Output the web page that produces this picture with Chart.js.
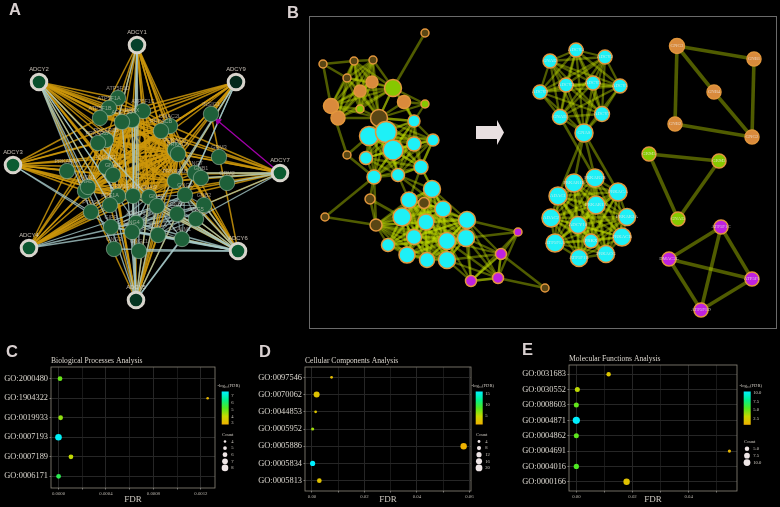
<!DOCTYPE html>
<html>
<head>
<meta charset="utf-8">
<title>Network and GO analysis</title>
<script src="https://cdn.jsdelivr.net/npm/chart.js@4"></script>
<style>
  html, body { margin: 0; background: #000; }
  #page { position: relative; width: 780px; height: 507px; overflow: hidden; background: #000; }
  canvas { position: absolute; filter: blur(0.35px); }
  .tag { position: absolute; font: bold 16.5px "Liberation Sans", sans-serif; color: #d9d0d0; }
</style>
</head>
<body>
<div id="page">
  <canvas id="netA" width="295" height="335" style="left:0;top:0"></canvas>
  <canvas id="netB" width="485" height="335" style="left:295px;top:0"></canvas>
  <canvas id="bpChart" width="250" height="167" style="left:0;top:340px"></canvas>
  <canvas id="ccChart" width="260" height="167" style="left:250px;top:340px"></canvas>
  <canvas id="mfChart" width="270" height="167" style="left:510px;top:340px"></canvas>
  <div class="tag" style="left:9px;top:0px">A</div>
  <div class="tag" style="left:287px;top:3px">B</div>
  <div class="tag" style="left:6px;top:342px">C</div>
  <div class="tag" style="left:259px;top:342px">D</div>
  <div class="tag" style="left:522px;top:340px">E</div>
</div>
<script>
// A: hubs
const hubNames = ["ADCY1", "ADCY2", "ADCY9", "ADCY3", "ADCY7", "ADCY4", "ADCY6", "ADCY5"];
const hubX = [137, 39, 236, 13, 280, 29, 238, 136];
const hubY = [45, 82, 82, 165, 173, 248, 251, 300];
const hubFill = ["#06402a", "#0a4f2c", "#03281a", "#0c5c32", "#0b5a30", "#0b5630", "#0c5a32", "#053420"];

// A: inner genes
const innerNames = ["ATP5F1D", "ATP5F1A", "ATP5F1B", "ATP5F1C", "PRKX", "ADCY10", "DMAC2L", "PRKACB", "INSIG1", "PRKAR2B",
  "PRKAR2A", "PRKAR1A", "PRKACG", "PRKACA", "GRM3", "GNG7", "GNB1", "GRM2", "PRKAR1B", "IQGAP1",
  "GNAI1", "GNAL", "HCN1", "GRM1", "GNAS", "GNAI3", "GNAQ", "GNG2", "GNB2", "GNB4",
  "GNG5", "PDE1A", "PTGS2", "GIPR", "GNAO1", "GNG4", "HTR1A", "CALM1", "GNG3", "GNG11"];
const innerX = [118, 109, 100, 143, 132, 122, 170, 161, 211, 106, 98, 67, 175, 178, 219, 195, 201, 227, 175, 106,
  113, 85, 88, 118, 133, 149, 157, 185, 204, 177, 196, 110, 91, 111, 136, 132, 158, 182, 114, 139];
const innerY = [98, 108, 118, 111, 120, 122, 126, 131, 114, 140, 143, 171, 150, 154, 157, 173, 178, 183, 181, 167,
  175, 191, 187, 196, 196, 197, 206, 195, 205, 214, 219, 205, 212, 227, 223, 232, 235, 239, 249, 251];

// A: which inner gene each hub links to, same order as hubNames
const goldLinks = [
  [2, 3, 4, 6, 7, 9, 12, 13, 15, 18, 19, 20, 24, 25, 26],
  [0, 1, 2, 3, 4, 5, 6, 7, 9, 10, 12, 13, 18, 19, 20, 21, 22, 24, 25, 27, 31],
  [2, 3, 4, 6, 7, 8, 9, 12, 13, 18, 19, 20, 24, 25],
  [2, 5, 9, 10, 11, 12, 13, 18, 19, 20, 21, 22, 23, 24, 25],
  [5, 6, 7, 9, 12, 13, 15, 16, 18, 20, 24, 25, 27, 28],
  [9, 10, 11, 12, 13, 18, 20, 21, 22, 23, 24, 31, 32],
  [6, 7, 8, 12, 13, 18, 24, 25, 26, 27, 28, 29, 30, 36, 37],
  [9, 12, 13, 18, 20, 21, 23, 24, 25, 26, 29, 31, 34, 36]
];
const blueLinks = [
  [19, 24, 34, 35, 39],
  [23, 26, 31, 32, 33, 34, 38],
  [18, 26, 27, 29],
  [32, 33],
  [15, 16, 17, 28, 30],
  [26, 34, 35],
  [24, 25, 26, 27, 28, 29, 30, 33, 34, 35, 36, 37, 38, 39],
  [4, 5, 19, 24, 25, 26, 29, 30, 33, 35, 37]
];
const goldGroups = [
  [3, 4, 5, 6, 7, 9, 10, 12, 13, 18, 19, 20, 21, 22, 23, 24, 25],
  [0, 1, 2, 3, 5],
  [13, 15, 16, 18, 27]
];
const blueGroups = [[25, 26, 27, 28, 29, 30, 33, 34, 35, 36, 37]];
const purpleEdgeX = [280, 218];
const purpleEdgeY = [173, 121];

// B left network
const leftX = [425, 323, 354, 373, 347, 372, 360, 393, 404, 425, 331, 338, 360, 379, 414, 369, 386, 414, 433, 393, 366, 347, 421, 398,
  374, 432, 409, 424, 370, 325, 376, 443, 402, 426, 467, 466, 447, 414, 388, 407, 427, 447, 471, 498, 501, 518, 545];
const leftY = [33, 64, 61, 60, 78, 82, 91, 88, 102, 104, 106, 118, 109, 118, 121, 136, 132, 144, 140, 150, 158, 155, 167, 175,
  177, 189, 200, 203, 199, 217, 225, 209, 217, 222, 220, 238, 241, 237, 245, 255, 260, 260, 281, 278, 254, 232, 288];
const leftSize = [4, 4, 4, 4, 4, 6, 6, 8.5, 6.5, 4, 7.5, 7, 4, 8.5, 6, 9.5, 10.5, 7, 6, 10, 6.5, 4, 7, 6.5,
  7, 8.5, 8, 5.5, 5, 4, 6, 8, 9, 8, 8.5, 8.5, 8.5, 7.5, 6.5, 8, 7.5, 8.5, 5.5, 5.5, 5.5, 4, 4];
const leftKind = ["b", "b", "b", "b", "b", "o", "o", "g", "o", "g", "o", "o", "g", "b", "c", "c", "c", "c", "c", "c", "c", "b", "c", "c",
  "c", "c", "c", "b", "b", "b", "b", "c", "c", "c", "c", "c", "c", "c", "c", "c", "c", "c", "p", "p", "p", "p", "b"];
const leftGroups = [
  [2, 3, 4, 5, 6, 7, 10, 11, 12, 13],
  [7, 8, 9, 13, 14],
  [13, 14, 15, 16, 17, 18, 19, 20, 22, 23, 24],
  [22, 23, 25, 26, 31],
  [25, 26, 27, 30, 31, 32, 33, 34, 35, 36, 37, 38, 39, 40, 41],
  [34, 35, 36, 41, 42, 43, 44],
  [42, 43, 44, 45]
];
const leftEdges = [[0, 7], [1, 2], [1, 4], [1, 10], [10, 21], [21, 15], [21, 24], [24, 28], [24, 29], [29, 30], [28, 30], [28, 32],
  [24, 30], [34, 45], [35, 45], [44, 46], [43, 46], [8, 14], [18, 22]];

// B right clusters
const rightNames = ["ADCY4", "GNAI2", "ADCY2", "ADCY3", "ADCY5", "ADCY1", "ADCY9", "GNAI1", "ADCY7", "GNAS",
  "PRKAR1B", "PRKAR2B", "PRKACA", "ADAC1", "PRKAR1A", "PRKAR2A", "ADAC2", "ADCY10", "PRKACB", "ATP5F1A", "PRKX", "PRKACG", "ATP5F1B",
  "GNG3", "GNB1", "GNB4", "GNB2", "GNG2",
  "GRM3", "GRM2", "GNAI3",
  "ATP5F1C", "DMAC2L", "ATP5F1", "ATP5F1D"];
const rightX = [576, 550, 605, 566, 593, 620, 540, 560, 602, 584,
  574, 595, 618, 558, 596, 627, 551, 578, 622, 555, 591, 606, 579,
  677, 754, 714, 675, 752,
  649, 719, 678,
  721, 669, 752, 701];
const rightY = [50, 61, 57, 85, 83, 86, 92, 117, 114, 133,
  183, 178, 192, 196, 205, 217, 218, 225, 237, 243, 241, 254, 258,
  46, 59, 92, 124, 137,
  154, 161, 219,
  227, 259, 279, 310];
const rightSize = [7, 7, 7, 7, 7, 7, 7, 7.5, 7.5, 9,
  9, 9, 9, 9, 9, 8.5, 9, 8.5, 9, 9, 7, 8.5, 8.5,
  7.5, 7, 7, 7, 7,
  7, 7, 7,
  7, 7, 7, 7];
const rightKind = ["c", "c", "c", "c", "c", "c", "c", "c", "c", "c",
  "c", "c", "c", "c", "c", "c", "c", "c", "c", "c", "c", "c", "c",
  "o", "o", "o", "o", "o",
  "g", "g", "g",
  "p", "p", "p", "p"];
const rightGroups = [
  [0, 1, 2, 3, 4, 5, 6, 7, 8, 9],
  [10, 11, 12, 13, 14, 15, 16, 17, 18, 19, 20, 21, 22]
];
const rightEdges = [[9, 10], [9, 11], [9, 13], [9, 12], [7, 11]];
const rightThick = [[23, 24], [23, 25], [23, 26], [24, 27], [25, 27], [26, 27],
  [28, 29], [28, 30], [29, 30],
  [31, 32], [31, 33], [31, 34], [32, 33], [32, 34], [33, 34]];
const kindFill = { c: "#1ef0f6", b: "#5a4614", o: "#d98a3c", g: "#86c800", p: "#bf22e0" };

// C, D, E
const bpTerms = ["GO:2000480", "GO:1904322", "GO:0019933", "GO:0007193", "GO:0007189", "GO:0006171"];
const bpFdr = [0.000013, 0.001257, 0.000018, 0, 0.000105, 0.000001];
const bpLog = [5, 3, 4.6, 7.6, 4.1, 5.8];
const bpCount = [6, 4, 6, 8, 6, 6];
const bpTicks = [0, 0.0002, 0.0004, 0.0006, 0.0008, 0.001, 0.0012];
const bpTickLabels = ["0.0000", "", "0.0004", "", "0.0008", "", "0.0012"];
const bpColorTicks = [7, 6, 5, 4, 3];
const bpCountTicks = [4, 5, 6, 7, 8];

const ccTerms = ["GO:0097546", "GO:0070062", "GO:0044853", "GO:0005952", "GO:0005886", "GO:0005834", "GO:0005813"];
const ccFdr = [0.00747, 0.00177, 0.00139, 0.00025, 0.0578, 0.00025, 0.0028];
const ccLog = [2.1, 2.7, 2.9, 6, 1.2, 15.9, 2.6];
const ccCount = [4, 16, 4, 5, 18, 12, 10];
const ccTicks = [0, 0.01, 0.02, 0.03, 0.04, 0.05, 0.06];
const ccTickLabels = ["0.00", "", "0.02", "", "0.04", "", "0.06"];
const ccColorTicks = [15, 10, 5];
const ccCountTicks = [4, 8, 12, 16, 20];

const mfTerms = ["GO:0031683", "GO:0030552", "GO:0008603", "GO:0004871", "GO:0004862", "GO:0004691", "GO:0004016", "GO:0000166"];
const mfFdr = [0.0115, 0.00036, 0, 0, 0, 0.0545, 0, 0.0179];
const mfLog = [2, 3.4, 5.2, 10.3, 5.3, 1.3, 5.6, 1.8];
const mfCount = [5, 6, 6, 11, 6, 3, 6.5, 9];
const mfTicks = [0, 0.01, 0.02, 0.03, 0.04, 0.05];
const mfTickLabels = ["0.00", "", "0.02", "", "0.04", ""];
const mfColorTicks = [10, 7.5, 5, 2.5];
const mfColorTickLabels = ["10.0", "7.5", "5.0", "2.5"];
const mfCountTicks = [5, 7.5, 10];
const mfCountTickLabels = ["5.0", "7.5", "10.0"];

const rampColors = [[240, 176, 0], [200, 216, 0], [80, 232, 32], [0, 240, 144], [0, 240, 255]];

Chart.defaults.animation = false;
Chart.defaults.responsive = false;
Chart.defaults.layout.autoPadding = false;
Chart.defaults.plugins.legend.display = false;
Chart.defaults.plugins.tooltip.enabled = false;

const SERIF = '"Liberation Serif", serif';
const SANS = '"Liberation Sans", sans-serif';

function rampColor(t) {
  t = Math.max(0, Math.min(1, t)) * (rampColors.length - 1);
  const i = Math.min(Math.floor(t), rampColors.length - 2);
  const f = t - i;
  const c = rampColors[i].map((v, k) => Math.round(v + (rampColors[i + 1][k] - v) * f));
  return `rgb(${c[0]},${c[1]},${c[2]})`;
}

function groupPairs(groups) {
  const pairs = [];
  groups.forEach((g) => {
    for (let i = 0; i < g.length; i++) {
      for (let j = i + 1; j < g.length; j++) pairs.push([g[i], g[j]]);
    }
  });
  return pairs;
}

function edgeSet(xs, ys, pairs, color, width) {
  return pairs.map(([a, b]) => ({
    type: "scatter",
    showLine: true,
    order: 2,
    data: [{ x: xs[a], y: ys[a] }, { x: xs[b], y: ys[b] }],
    borderColor: color,
    borderWidth: width,
    pointRadius: 0,
    clip: false,
  }));
}

function pixelAxes(xMin, xMax, yMax) {
  return {
    x: { type: "linear", display: false, min: xMin, max: xMax },
    y: { type: "linear", display: false, min: 0, max: yMax, reverse: true },
  };
}

// ---- Panel A
function initNetA() {
  const allX = hubX.concat(innerX);
  const allY = hubY.concat(innerY);
  const goldPairs = [];
  const bluePairs = [];
  goldLinks.forEach((l, h) => l.forEach((n) => goldPairs.push([h, n + hubX.length])));
  blueLinks.forEach((l, h) => l.forEach((n) => bluePairs.push([h, n + hubX.length])));
  const shift = (groups) => groupPairs(groups).map(([a, b]) => [a + hubX.length, b + hubX.length]);

  const nodeLabels = {
    id: "nodeLabels",
    afterDatasetsDraw(chart) {
      const { ctx, scales } = chart;
      ctx.save();
      ctx.textAlign = "center";
      ctx.textBaseline = "middle";
      ctx.fillStyle = "rgba(225,215,205,0.85)";
      ctx.font = `5.9px ${SANS}`;
      hubNames.forEach((n, i) => {
        ctx.fillText(n, scales.x.getPixelForValue(hubX[i]), scales.y.getPixelForValue(hubY[i] - 12.5));
      });
      ctx.fillStyle = "rgba(225,215,205,0.6)";
      ctx.font = `5.4px ${SANS}`;
      innerNames.forEach((n, i) => {
        ctx.fillText(n, scales.x.getPixelForValue(innerX[i]), scales.y.getPixelForValue(innerY[i] - 9));
      });
      ctx.restore();
    },
  };

  new Chart(document.getElementById("netA"), {
    type: "scatter",
    data: {
      datasets: [
        {
          order: 0,
          data: hubX.map((x, i) => ({ x, y: hubY[i] })),
          pointRadius: 7.8,
          pointBackgroundColor: hubFill,
          pointBorderColor: "#d8d4cc",
          pointBorderWidth: 3,
          clip: false,
        },
        {
          order: 1,
          data: innerX.map((x, i) => ({ x, y: innerY[i] })),
          pointRadius: 7.7,
          pointBackgroundColor: "#1e6039",
          pointBorderColor: "rgba(170,195,175,0.7)",
          pointBorderWidth: 0.8,
          clip: false,
        },
        {
          type: "scatter",
          showLine: true,
          order: 1,
          data: purpleEdgeX.map((x, i) => ({ x, y: purpleEdgeY[i] })),
          borderColor: "#a000a8",
          borderWidth: 1.3,
          pointRadius: [0, 3],
          pointStyle: "triangle",
          pointRotation: -50,
          pointBackgroundColor: "#a000a8",
          pointBorderColor: "#a000a8",
        },
        ...edgeSet(allX, allY, bluePairs, "rgba(165,200,200,0.8)", 1.3),
        ...edgeSet(allX, allY, goldPairs, "rgba(205,150,10,0.85)", 1.5),
        ...edgeSet(allX, allY, shift(goldGroups), "rgba(205,150,10,0.8)", 1.5),
        ...edgeSet(allX, allY, shift(blueGroups), "rgba(165,200,200,0.65)", 1.1),
      ],
    },
    options: { layout: { padding: 0 }, scales: pixelAxes(0, 295, 335) },
    plugins: [nodeLabels],
  });
}

// ---- Panel B
function initNetB() {
  const edgeColor = "rgba(190,220,0,0.42)";
  const frameAndArrow = {
    id: "frameAndArrow",
    beforeDatasetsDraw(chart) {
      const { ctx, scales } = chart;
      const px = (v) => scales.x.getPixelForValue(v);
      const py = (v) => scales.y.getPixelForValue(v);
      ctx.save();
      ctx.strokeStyle = "#6a6a6a";
      ctx.lineWidth = 1;
      ctx.strokeRect(px(309) + 0.5, py(16) + 0.5, px(776) - px(309), py(328) - py(16));
      ctx.fillStyle = "#e8dfe0";
      ctx.beginPath();
      [[476, 126], [497, 126], [497, 120], [504, 132.5], [497, 145], [497, 139], [476, 139]].forEach(([x, y], i) => {
        if (i === 0) ctx.moveTo(px(x), py(y));
        else ctx.lineTo(px(x), py(y));
      });
      ctx.closePath();
      ctx.fill();
      ctx.restore();
    },
    afterDatasetsDraw(chart) {
      const { ctx, scales } = chart;
      ctx.save();
      ctx.textAlign = "center";
      ctx.textBaseline = "middle";
      ctx.fillStyle = "rgba(240,235,230,0.75)";
      ctx.font = `4.8px ${SERIF}`;
      rightNames.forEach((n, i) => {
        ctx.fillText(n, scales.x.getPixelForValue(rightX[i]), scales.y.getPixelForValue(rightY[i]));
      });
      ctx.restore();
    },
  };

  const nodeSet = (xs, ys, sizes, kinds) => ({
    order: 0,
    data: xs.map((x, i) => ({ x, y: ys[i] })),
    pointRadius: sizes,
    pointBackgroundColor: kinds.map((k) => kindFill[k]),
    pointBorderColor: "#e2963c",
    pointBorderWidth: 1.5,
    clip: false,
  });

  new Chart(document.getElementById("netB"), {
    type: "scatter",
    data: {
      datasets: [
        nodeSet(leftX, leftY, leftSize, leftKind),
        nodeSet(rightX, rightY, rightSize, rightKind),
        ...edgeSet(leftX, leftY, groupPairs(leftGroups), edgeColor, 2.3),
        ...edgeSet(leftX, leftY, leftEdges, edgeColor, 2.6),
        ...edgeSet(rightX, rightY, groupPairs(rightGroups), edgeColor, 2.3),
        ...edgeSet(rightX, rightY, rightEdges, edgeColor, 2.6),
        ...edgeSet(rightX, rightY, rightThick, edgeColor, 3.6),
      ],
    },
    options: { layout: { padding: 0 }, scales: pixelAxes(295, 780, 335) },
    plugins: [frameAndArrow],
  });
}

// ---- Panels C, D, E
function bubblePanel(id, d) {
  const canvas = document.getElementById(id);
  const W = canvas.width;
  const H = canvas.height;
  const logMin = d.logRange[0];
  const logSpan = d.logRange[1] - d.logRange[0];
  const radius = (c) => {
    const a = Math.sqrt(d.countRange[0]);
    const b = Math.sqrt(d.countRange[1]);
    return d.sizeRange[0] + ((Math.sqrt(c) - a) / (b - a)) * (d.sizeRange[1] - d.sizeRange[0]);
  };

  const panelDecor = {
    id: "panelDecor",
    afterDatasetsDraw(chart) {
      const { ctx, chartArea: a } = chart;
      ctx.save();
      // frame
      ctx.strokeStyle = "#8d887c";
      ctx.lineWidth = 0.8;
      ctx.strokeRect(a.left, a.top, a.right - a.left, a.bottom - a.top);
      // title
      ctx.fillStyle = "#ddd8d0";
      ctx.textAlign = "left";
      ctx.textBaseline = "middle";
      ctx.font = `${d.titleSize}px ${SERIF}`;
      ctx.fillText(d.title, a.left, a.top - 6);
      // colour bar
      const bx = a.right + d.barGap;
      const by = a.top + d.barTop;
      const g = ctx.createLinearGradient(0, by + d.barH, 0, by);
      rampColors.forEach((c, i) => g.addColorStop(i / (rampColors.length - 1), `rgb(${c[0]},${c[1]},${c[2]})`));
      ctx.fillStyle = g;
      ctx.fillRect(bx, by, 7, d.barH);
      ctx.fillStyle = "#cfcac2";
      ctx.font = `4.6px ${SERIF}`;
      ctx.textAlign = "center";
      ctx.fillText("-log\u2081\u2080(FDR)", bx + 7, by - 6);
      ctx.textAlign = "left";
      d.colorTicks.forEach((v, i) => {
        const y = by + d.barH * (1 - (v - logMin) / logSpan);
        ctx.fillText(d.colorTickLabels ? d.colorTickLabels[i] : String(v), bx + 9.5, y);
      });
      // count legend
      const cy = by + d.countTop;
      ctx.textAlign = "center";
      ctx.fillText("Count", bx + 6, cy);
      d.countTicks.forEach((v, i) => {
        const y = cy + d.countStart + i * d.countStep;
        ctx.fillStyle = "#efe6e6";
        ctx.beginPath();
        ctx.arc(bx + 3.3, y, radius(v), 0, Math.PI * 2);
        ctx.fill();
        ctx.fillStyle = "#cfcac2";
        ctx.textAlign = "left";
        ctx.fillText(d.countTickLabels ? d.countTickLabels[i] : String(v), bx + 9.5, y);
      });
      ctx.restore();
    },
  };

  new Chart(canvas, {
    type: "scatter",
    data: {
      datasets: [{
        data: d.fdr.map((x, i) => ({ x, y: i })),
        pointRadius: d.count.map(radius),
        pointBackgroundColor: d.log.map((v) => rampColor((v - logMin) / logSpan)),
        pointBorderWidth: 0,
        clip: false,
      }],
    },
    options: {
      layout: { padding: { left: 0, top: d.top, right: W - d.right, bottom: 0 } },
      scales: {
        x: {
          type: "linear",
          min: d.xRange[0],
          max: d.xRange[1],
          afterBuildTicks: (s) => { s.ticks = d.xTicks.map((value) => ({ value })); },
          afterFit: (s) => { s.height = H - d.bottom; },
          grid: {
            color: (c) => (d.xLabels[c.index] ? "#262626" : "#191919"),
            lineWidth: 1,
            drawTicks: true,
            tickLength: 1.5,
            tickColor: "#777",
          },
          border: { display: false },
          ticks: {
            autoSkip: false,
            maxRotation: 0,
            padding: 1.5,
            color: "#bdb8b0",
            font: { family: SERIF, size: 4.8 },
            callback: (v, i) => d.xLabels[i],
          },
          title: {
            display: true,
            text: "FDR",
            color: "#cfcac2",
            font: { family: SERIF, size: 9 },
            padding: { top: 0, bottom: 1.5 },
          },
        },
        y: {
          type: "linear",
          reverse: true,
          min: -0.6,
          max: d.terms.length - 0.4,
          afterBuildTicks: (s) => { s.ticks = d.terms.map((t, i) => ({ value: i })); },
          afterFit: (s) => { s.width = d.left; },
          grid: { color: "#262626", lineWidth: 1, tickLength: 1.5, tickColor: "#777" },
          border: { display: false },
          ticks: {
            autoSkip: false,
            padding: 1.5,
            color: "#dcd8d0",
            font: { family: SERIF, size: 8.4 },
            callback: (v, i) => d.terms[i],
          },
        },
      },
    },
    plugins: [panelDecor],
  });
}

document.addEventListener("DOMContentLoaded", () => {
  initNetA();
  initNetB();
  bubblePanel("bpChart", {
    title: "Biological Processes Analysis", titleSize: 7.6,
    terms: bpTerms, fdr: bpFdr, log: bpLog, count: bpCount,
    xTicks: bpTicks, xLabels: bpTickLabels, xRange: [-0.000063, 0.001319],
    logRange: [2.8, 7.7], countRange: [4, 8], sizeRange: [1.3, 3.3],
    colorTicks: bpColorTicks, countTicks: bpCountTicks,
    left: 51, right: 215, top: 27, bottom: 148,
    barGap: 6.7, barTop: 24.5, barH: 33, countTop: 43, countStart: 7, countStep: 6.6,
  });
  bubblePanel("ccChart", {
    title: "Cellular Components Analysis", titleSize: 7.6,
    terms: ccTerms, fdr: ccFdr, log: ccLog, count: ccCount,
    xTicks: ccTicks, xLabels: ccTickLabels, xRange: [-0.00266, 0.0606],
    logRange: [1.06, 15.9], countRange: [4, 20], sizeRange: [1.4, 3.4],
    colorTicks: ccColorTicks, countTicks: ccCountTicks,
    left: 55, right: 221, top: 27, bottom: 151,
    barGap: 4.7, barTop: 24.5, barH: 33, countTop: 43, countStart: 7, countStep: 6.6,
  });
  bubblePanel("mfChart", {
    title: "Molecular Functions Analysis", titleSize: 7.6,
    terms: mfTerms, fdr: mfFdr, log: mfLog, count: mfCount,
    xTicks: mfTicks, xLabels: mfTickLabels, xRange: [-0.00261, 0.0572],
    logRange: [0.8, 10.3], countRange: [3, 11], sizeRange: [1.6, 3.6],
    colorTicks: mfColorTicks, colorTickLabels: mfColorTickLabels,
    countTicks: mfCountTicks, countTickLabels: mfCountTickLabels,
    left: 59, right: 227, top: 25, bottom: 151,
    barGap: 6.7, barTop: 26.5, barH: 33.3, countTop: 50, countStart: 7.3, countStep: 6.9,
  });
});
</script>
</body>
</html>
